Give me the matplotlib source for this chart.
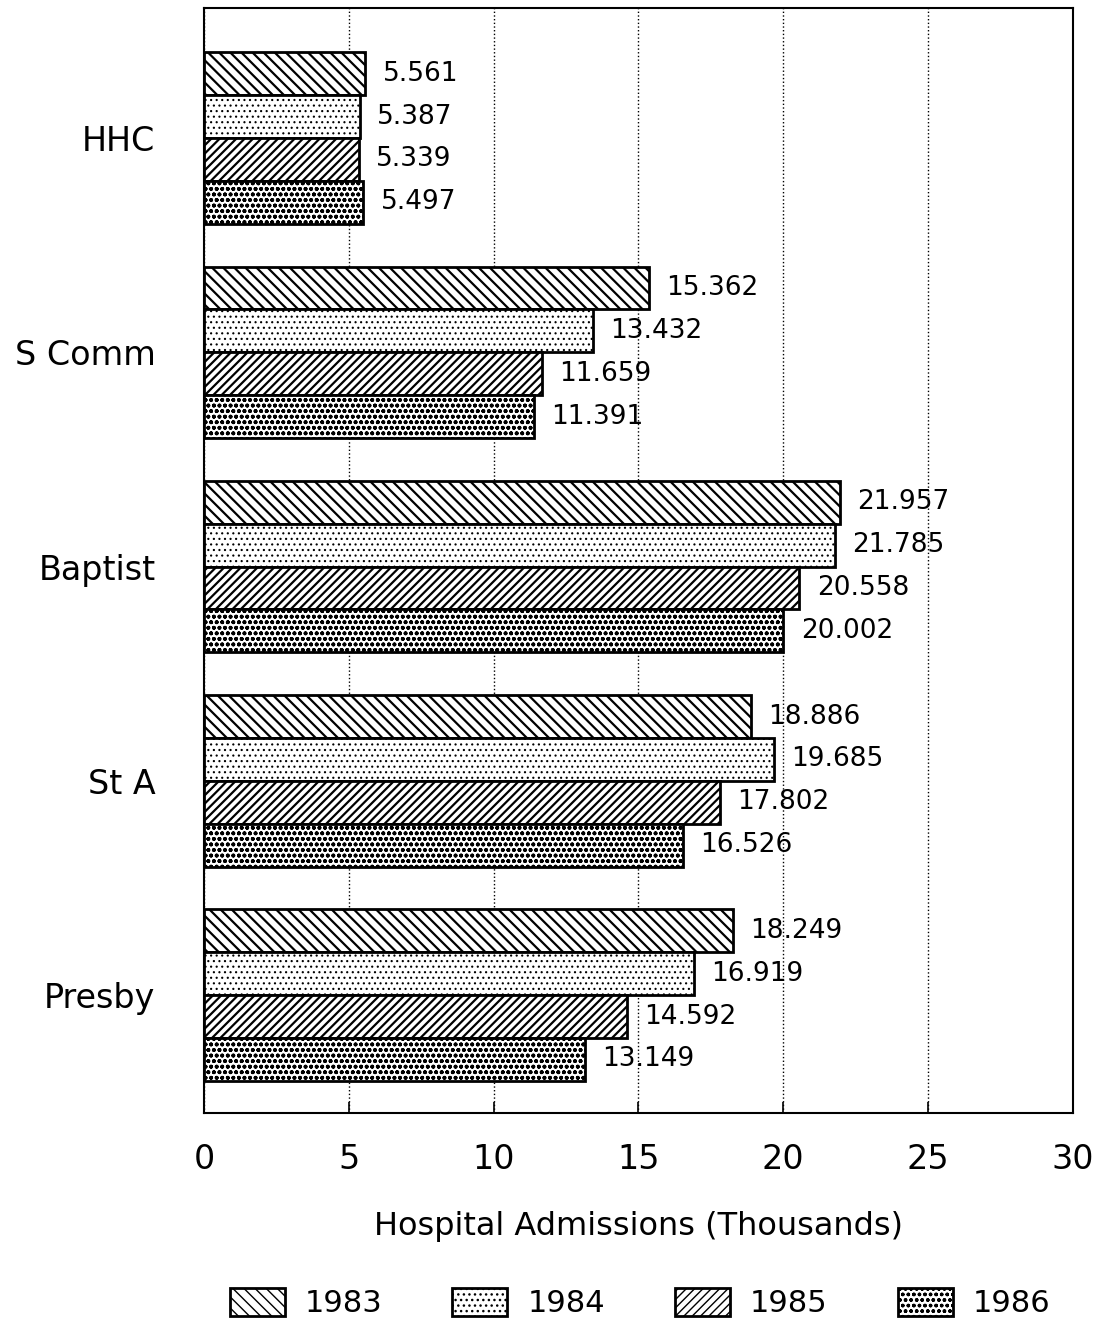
import numpy as np
from matplotlib import pyplot as plt

hospitals = ["HHC", "S Comm", "Baptist", "St A", "Presby"]
years = ["1983", "1984", "1985", "1986"]
adm_1983 = [5.561, 15.362, 21.957, 18.886, 18.249]
adm_1984 = [5.387, 13.432, 21.785, 19.685, 16.919]
adm_1985 = [5.339, 11.659, 20.558, 17.802, 14.592]
adm_1986 = [5.497, 11.391, 20.002, 16.526, 13.149]

series = [adm_1983, adm_1984, adm_1985, adm_1986]
hatches = ["\\\\\\", "...", "////", "ooo"]
hatch_lw = [1.6, 0.8, 1.6, 1.2]

fig = plt.figure(figsize=(11.13, 13.30), dpi=100)
ax = fig.add_axes([0.1833, 0.1632, 0.7807, 0.8308])

y = np.arange(len(hospitals))
h = 0.2
for i, vals in enumerate(series):
    pos = y - 0.3 + i * h
    bars = ax.barh(pos, vals, height=h, color="white", edgecolor="black",
                   linewidth=2, hatch=hatches[i], label=years[i], zorder=3)
    for b in bars:
        try:
            b.set_hatch_linewidth(hatch_lw[i])
        except AttributeError:
            pass
    for p, v in zip(pos, vals):
        ax.text(v + 0.6, p, "%.3f" % v, va="center", ha="left", fontsize=19, zorder=4)

ax.set_xlim(0, 30)
ax.set_ylim(4.55, -0.607)
ax.set_xticks([0, 5, 10, 15, 20, 25, 30])
ax.set_xticklabels(["0", "5", "10", "15", "20", "25", "30"], fontsize=24)
ax.set_yticks(y)
ax.set_yticklabels(hospitals, fontsize=24)
ax.tick_params(axis="y", length=0, pad=35)
ax.tick_params(axis="x", direction="in", length=8, width=1.2, pad=22)
ax.xaxis.grid(True, linestyle=":", color="black", linewidth=1)
ax.set_axisbelow(True)
for s in ax.spines.values():
    s.set_linewidth(1.5)
ax.set_xlabel("Hospital Admissions (Thousands)", fontsize=23, labelpad=25)

fig.legend(loc="lower center", bbox_to_anchor=(0.575, -0.012), ncol=4, frameon=False,
           fontsize=22, handlelength=1.8, handleheight=1.0, handletextpad=0.65,
           columnspacing=2.3)

plt.savefig("out.png")
